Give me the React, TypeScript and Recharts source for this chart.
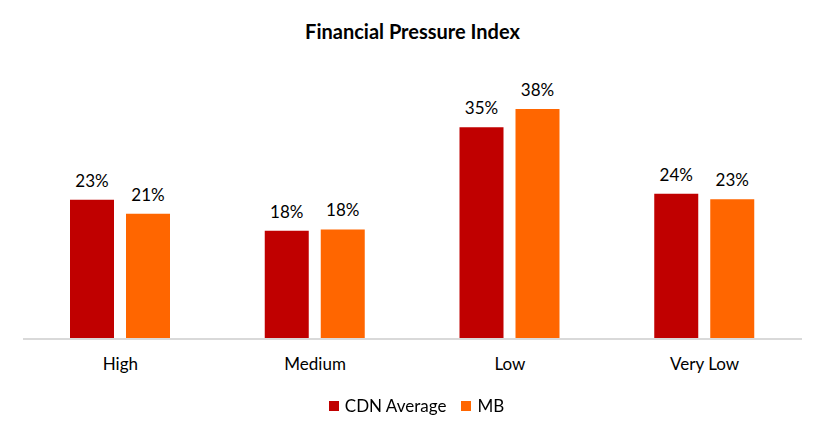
import { BarChart, Bar, XAxis, YAxis, LabelList } from 'recharts'

const categories = ['High', 'Medium', 'Low', 'Very Low']
const cdnAverage = [23, 17.9, 35, 24]
const mb = [20.7, 18.1, 38, 23.1]

const data = categories.map((name, i) => ({ name, cdn: cdnAverage[i], mb: mb[i] }))

const FONT = 'Lato, "Noto Sans", sans-serif'

const pct = (v: any) => `${Math.round(Number(v))}%`

const legendItems = [
  { label: 'CDN Average', color: '#C00000' },
  { label: 'MB', color: '#FF6600' },
]

export default function App() {
  return (
    <div style={{ position: 'fixed', left: 0, top: 0, width: 825, height: 436, background: '#fff' }}>
      <div style={{
        position: 'absolute', top: 19, left: 0, width: 825, textAlign: 'center',
        fontFamily: FONT, fontWeight: 700, fontSize: 20, color: '#000',
      }}>
        Financial Pressure Index
      </div>
      <BarChart
        width={825}
        height={436}
        data={data}
        margin={{ top: 97, right: 23, bottom: 67, left: 23 }}
        barGap={12}
        barCategoryGap={47}
      >
        <YAxis hide domain={[0, 40]} />
        <XAxis
          dataKey="name"
          axisLine={{ stroke: '#d9d9d9', strokeWidth: 2 }}
          tickLine={false}
          tick={{ fontSize: 17, fill: '#000', fontFamily: FONT }}
          tickMargin={13}
        />
        <Bar dataKey="cdn" name="CDN Average" fill="#C00000" barSize={44} isAnimationActive={false}>
          <LabelList dataKey="cdn" position="top" offset={13} formatter={pct} style={{ fontSize: 17, fill: '#000', fontFamily: FONT }} />
        </Bar>
        <Bar dataKey="mb" name="MB" fill="#FF6600" barSize={44} isAnimationActive={false}>
          <LabelList dataKey="mb" position="top" offset={13} formatter={pct} style={{ fontSize: 17, fill: '#000', fontFamily: FONT }} />
        </Bar>
      </BarChart>
      <div style={{
        position: 'absolute', top: 395, left: 4, width: 825, display: 'flex', justifyContent: 'center',
        gap: 15, fontFamily: FONT, fontSize: 17, color: '#000',
      }}>
        {legendItems.map(it => (
          <div key={it.label} style={{ display: 'flex', alignItems: 'center' }}>
            <span style={{ width: 10, height: 10, background: it.color, marginRight: 6, display: 'inline-block' }} />
            {it.label}
          </div>
        ))}
      </div>
    </div>
  )
}
